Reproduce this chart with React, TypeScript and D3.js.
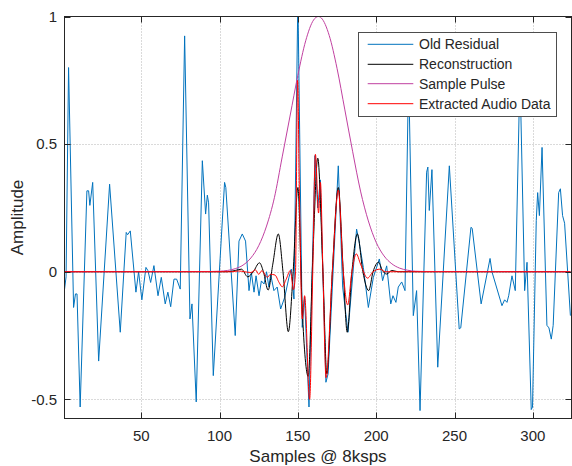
import React from "react";
import * as d3 from "d3";

const W = 572;
const H = 466;

// ---- data ----
const residualX = [1, 2, 3.6, 6.8, 8, 9, 11, 15.3, 16.4, 17.2, 19, 22.8, 29.8, 36.6, 40.4, 41.3, 43, 46.6, 48.3, 50.4, 53, 54.3, 56, 58.1, 60.7, 62.8, 65.3, 67, 68.8, 70.9, 72.6, 74.9, 77.7, 81.1, 82.4, 85.1, 89, 91.1, 92.2, 93, 96, 103.2, 104, 110, 112.4, 114.5, 116.6, 118.8, 120.3, 122, 123.3, 125.2, 126.7, 128.4, 130, 131.5, 132.6, 134.7, 136.8, 139, 141.6, 144.3, 145.8, 147.5, 150, 152.8, 154.3, 157.1, 160.9, 162.7, 164.3, 167.9, 169.3, 175.8, 178.6, 182, 187.5, 189, 191.8, 195, 198.2, 202, 204.1, 206.7, 209.3, 210.7, 212.6, 214.1, 216.3, 218.4, 220.7, 223.7, 225.8, 228, 232.2, 233, 233.9, 235.6, 239.3, 246.7, 253, 254, 260.5, 261.3, 267, 272.7, 274, 280.3, 282, 283.5, 284.6, 286.7, 288.8, 291.8, 294.8, 296.3, 299, 299.8, 302.2, 303.1, 304.2, 305.9, 309, 310.3, 311.8, 313, 316.5, 317.6, 319, 320.3, 324];
const residualY = [-0.07, -0.02, 0.8, -0.14, -0.087, -0.087, -0.53, 0.317, 0.317, 0.26, 0.35, -0.35, 0.343, -0.237, 0.154, 0.145, 0.16, -0.08, 0.0, -0.11, 0.017, 0.004, -0.042, 0.024, -0.094, -0.022, -0.126, -0.08, -0.137, -0.029, -0.029, -0.068, 0.924, -0.185, -0.126, -0.51, 0.435, 0.226, 0.3, 0.27, -0.407, 0.35, 0.33, -0.25, 0.12, 0.148, 0.12, -0.074, -0.003, -0.08, -0.016, -0.094, -0.036, -0.048, 0.0, -0.06, -0.01, -0.074, -0.06, -0.146, -0.1, -0.022, 0.01, -0.107, 1.08, -0.218, -0.1, -0.53, 0.455, 0.25, 0.36, -0.433, -0.4, 0.415, -0.06, -0.237, 0.167, 0.12, 0.017, -0.14, -0.022, 0.05, -0.035, 0.023, -0.126, -0.094, -0.12, -0.06, -0.04, -0.074, 0.78, -0.172, -0.074, -0.544, 0.39, 0.41, 0.24, 0.4, -0.374, 0.415, -0.224, -0.22, 0.174, 0.17, -0.126, 0.052, -0.002, -0.133, -0.11, -0.12, -0.094, -0.016, -0.074, 0.78, -0.074, 0.037, -0.54, -0.53, 0.2, 0.31, 0.22, 0.487, -0.21, -0.22, -0.264, -0.21, 0.31, 0.325, 0.22, 0.19, -0.172];

const reconX = [1, 105, 110, 114, 118, 121.5, 125.5, 128, 131, 134, 137.5, 140.5, 143.9, 147, 150, 152.8, 156.6, 159.5, 162.7, 166, 168.5, 172, 175.8, 179, 181.5, 184.5, 188, 191.5, 195.2, 198, 201.5, 204, 206.7, 210, 214, 324];
const reconY = [0, 0, 0.005, 0.01, -0.02, 0.0, 0.035, 0.0, -0.072, 0.03, 0.148, 0.0, -0.235, 0.0, 0.33, -0.15, -0.41, 0.05, 0.445, 0.0, -0.4, 0.0, 0.33, 0.0, -0.237, 0.0, 0.148, 0.0, -0.074, 0.0, 0.037, 0.005, -0.009, 0.005, 0, 0];

const pulseX = [1, 95, 100, 105, 110, 115, 120, 125, 130, 135, 140, 145, 150, 155, 160, 163, 165, 170, 175, 180, 185, 190, 195, 200, 205, 210, 215, 220, 225, 230, 324];
const pulseY = [0, 0.001, 0.002, 0.005, 0.012, 0.026, 0.054, 0.102, 0.179, 0.29, 0.45, 0.61, 0.77, 0.905, 0.986, 1.0, 0.994, 0.926, 0.797, 0.634, 0.47, 0.316, 0.199, 0.115, 0.062, 0.031, 0.014, 0.006, 0.002, 0.001, 0];

const extractX = [1, 108, 112, 116, 120, 123, 125, 127, 130.5, 132.5, 135.4, 138, 140, 142.5, 145.2, 147.2, 148.5, 149.8, 151, 152.8, 154.3, 157.5, 159.5, 161.2, 163.2, 164.4, 166, 168, 172, 175.8, 179, 181.8, 184.5, 187.3, 190, 194.5, 198, 202.3, 206, 324];
const extractY = [0, 0, 0.003, 0.0, -0.003, 0.007, -0.01, 0.004, -0.022, -0.01, -0.013, -0.042, -0.059, -0.03, 0.005, -0.07, 0.0, 0.75, 0.3, -0.185, -0.094, -0.5, 0.0, 0.46, 0.23, 0.35, 0.0, -0.415, 0.0, 0.32, 0.0, -0.13, 0.0, 0.07, 0.03, -0.025, 0.0, 0.01, 0, 0];

const xTicks = [50, 100, 150, 200, 250, 300];
const yTicks = [-0.5, 0, 0.5, 1];
const yTickLabels = ["-0.5", "0", "0.5", "1"];

const seriesNames = ["Old Residual", "Reconstruction", "Sample Pulse", "Extracted Audio Data"];
const seriesColors = ["#0072BD", "#000000", "#C040A0", "#FF0000"];

const FONT = "'Liberation Sans', Arial, Helvetica, sans-serif";
const TXT = "#262626";

export default function App() {
  const left = 64.5, right = 571.5, top = 16.5, bottom = 418.5;
  const x = d3.scaleLinear().domain([1, 324.7]).range([left, right]);
  const y = d3.scaleLinear().domain([-0.575, 1]).range([bottom, top]);

  const zip = (xs: number[], ys: number[]) => xs.map((v, i) => [v, ys[i]] as [number, number]);
  const lin = d3.line<[number, number]>().x(d => x(d[0])).y(d => y(d[1]));
  const smooth = d3.line<[number, number]>().x(d => x(d[0])).y(d => y(d[1])).curve(d3.curveMonotoneX);

  const paths = [
    lin(zip(residualX, residualY)),
    smooth(zip(reconX, reconY)),
    smooth(zip(pulseX, pulseY)),
    smooth(zip(extractX, extractY)),
  ];

  const lg = { x: 358.5, y: 32.5, w: 198, h: 84 };
  const rows = [44.3, 64.3, 83.7, 103.7];

  return (
    <div style={{ position: "absolute", left: 0, top: 0 }}>
      <svg width={W} height={H} style={{ display: "block", background: "#fff" }}>
        <defs>
          <clipPath id="plotclip">
            <rect x={left} y={top} width={right - left} height={bottom - top} />
          </clipPath>
        </defs>
        <rect x={0} y={0} width={W} height={H} fill="#fff" />
        {/* grid */}
        <g stroke="#b4b4b4" strokeWidth={1} strokeDasharray="1 2">
          {xTicks.map(t => (
            <line key={"gx" + t} x1={Math.round(x(t)) + 0.5} x2={Math.round(x(t)) + 0.5} y1={top} y2={bottom} />
          ))}
          {yTicks.filter(t => t < 1).map(t => (
            <line key={"gy" + t} x1={left} x2={right} y1={Math.round(y(t)) + 0.5} y2={Math.round(y(t)) + 0.5} />
          ))}
        </g>
        {/* series */}
        <g clipPath="url(#plotclip)" fill="none" strokeWidth={1}>
          {paths.map((p, i) => (
            <path key={i} d={p || ""} stroke={seriesColors[i]} />
          ))}
        </g>
        {/* box */}
        <rect x={left} y={top} width={right - left} height={bottom - top} fill="none" stroke={TXT} strokeWidth={1} />
        {/* ticks */}
        <g stroke={TXT} strokeWidth={1}>
          {xTicks.map(t => {
            const px = Math.round(x(t)) + 0.5;
            return (
              <g key={"tx" + t}>
                <line x1={px} x2={px} y1={bottom} y2={bottom - 6} />
                <line x1={px} x2={px} y1={top} y2={top + 6} />
              </g>
            );
          })}
          {yTicks.map(t => {
            const py = Math.round(y(t)) + 0.5;
            return (
              <g key={"ty" + t}>
                <line x1={left} x2={left + 6} y1={py} y2={py} />
                <line x1={right} x2={right - 6} y1={py} y2={py} />
              </g>
            );
          })}
        </g>
        {/* tick labels */}
        <g fontFamily={FONT} fontSize={15} fill={TXT}>
          {xTicks.map(t => (
            <text key={"lx" + t} x={x(t)} y={441} textAnchor="middle">{t}</text>
          ))}
          {yTicks.map((t, i) => (
            <text key={"ly" + t} x={57} y={y(t) + 5.3} textAnchor="end">{yTickLabels[i]}</text>
          ))}
        </g>
        {/* axis labels */}
        <text x={(left + right) / 2} y={462} textAnchor="middle" fontFamily={FONT} fontSize={17} fill={TXT}>
          Samples @ 8ksps
        </text>
        <text transform={`translate(23, ${(top + bottom) / 2}) rotate(-90)`} textAnchor="middle" fontFamily={FONT} fontSize={17} fill={TXT}>
          Amplitude
        </text>
        {/* legend */}
        <rect x={lg.x} y={lg.y} width={lg.w} height={lg.h} fill="#fff" stroke="#4d4d4d" strokeWidth={1} />
        {seriesNames.map((n, i) => (
          <g key={n}>
            <line x1={367.7} x2={413.3} y1={rows[i]} y2={rows[i]} stroke={seriesColors[i]} strokeWidth={1} />
            <text x={419} y={rows[i] + 5} fontFamily={FONT} fontSize={14} fill={TXT}>{n}</text>
          </g>
        ))}
      </svg>
    </div>
  );
}
